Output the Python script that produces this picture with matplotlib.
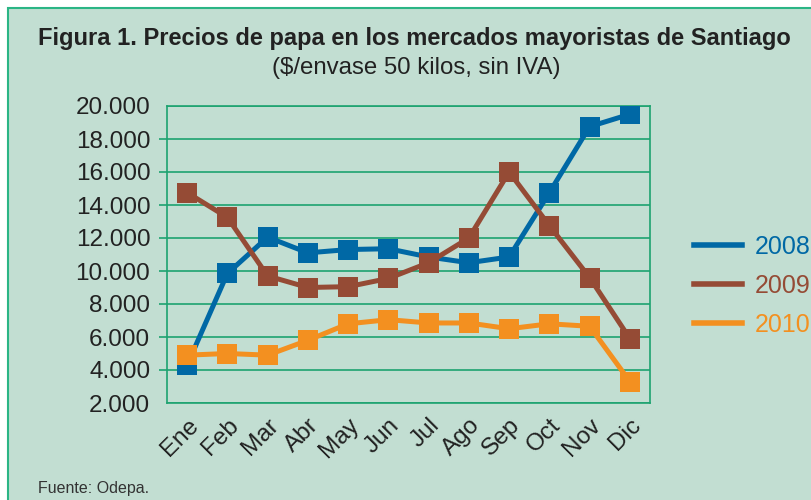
import matplotlib.pyplot as plt
from matplotlib.lines import Line2D
from matplotlib.patches import Rectangle
from matplotlib.ticker import FuncFormatter

# Monthly prices ($/envase 50 kilos, sin IVA)
months = ["Ene", "Feb", "Mar", "Abr", "May", "Jun",
          "Jul", "Ago", "Sep", "Oct", "Nov", "Dic"]
p2008 = [4300, 9850, 12050, 11100, 11300, 11350,
         10850, 10500, 10850, 14750, 18750, 19500]
p2009 = [14750, 13250, 9700, 9000, 9050, 9550,
         10500, 12000, 16000, 12750, 9600, 5900]
p2010 = [4900, 5000, 4900, 5800, 6800, 7050,
         6850, 6850, 6500, 6800, 6650, 3300]
series = {"2008": (p2008, "#0068a5"),
          "2009": (p2009, "#954b35"),
          "2010": (p2010, "#f39020")}

bg = "#c2ded2"
green = "#1da370"
txt = "#222222"

plt.rcParams["font.family"] = ["Liberation Sans", "DejaVu Sans"]

fig = plt.figure(figsize=(8.11, 5.0), dpi=100)
fig.patch.set_facecolor("white")

# framed mint panel
fig.patches.append(Rectangle((8 / 811, -0.01), 1.0, (500 - 8) / 500 + 0.01,
                             transform=fig.transFigure, facecolor=bg,
                             edgecolor="#2bb585", linewidth=1.5, zorder=-5))

ax = fig.add_axes([167 / 811, 97 / 500, 483 / 811, 297 / 500])
ax.set_facecolor(bg)

x = list(range(len(months)))
for name, (vals, col) in series.items():
    ax.plot(x, vals, color=col, linewidth=3.6, marker="s",
            markersize=14.5, markeredgewidth=0, zorder=3)

ax.set_xlim(-0.5, 11.5)
ax.set_ylim(2000, 20000)
ax.set_yticks(range(2000, 20001, 2000))
ax.yaxis.set_major_formatter(FuncFormatter(lambda v, p: f"{int(v):,}".replace(",", ".")))
ax.grid(axis="y", color=green, linewidth=1.2, zorder=1)
ax.set_axisbelow(True)
for s in ax.spines.values():
    s.set_color(green)
    s.set_linewidth(1.2)

ax.set_xticks(x)
ax.set_xticklabels(months, rotation=45, ha="right", rotation_mode="anchor")
ax.tick_params(axis="x", length=0, pad=8, labelsize=17.5, labelcolor=txt)
ax.tick_params(axis="y", length=6, color=green, width=1.2, pad=6,
               labelsize=17.5, labelcolor=txt)
yt = ax.yaxis.get_major_ticks()
yt[0].tick1line.set_visible(False)
yt[-1].tick1line.set_visible(False)

handles = [Line2D([], [], color=c, linewidth=4) for _, (v, c) in series.items()]
leg = fig.legend(handles, list(series.keys()), loc="center left",
                 bbox_to_anchor=(684 / 811, 1 - 286 / 500), frameon=False,
                 fontsize=18, handlelength=1.9, handletextpad=0.55,
                 labelspacing=0.6, labelcolor="linecolor", borderaxespad=0)

fig.text(414 / 811, 1 - 38 / 500,
         "Figura 1. Precios de papa en los mercados mayoristas de Santiago",
         ha="center", va="center", fontsize=17, fontweight="bold", color=txt)
fig.text(416 / 811, 1 - 68 / 500, "($/envase 50 kilos, sin IVA)",
         ha="center", va="center", fontsize=17.3, color=txt)
fig.text(38 / 811, 1 - 489 / 500, "Fuente: Odepa.", ha="left", va="center",
         fontsize=11.5, color="#333333")

fig.savefig("out.png", dpi=100, facecolor=fig.get_facecolor())
